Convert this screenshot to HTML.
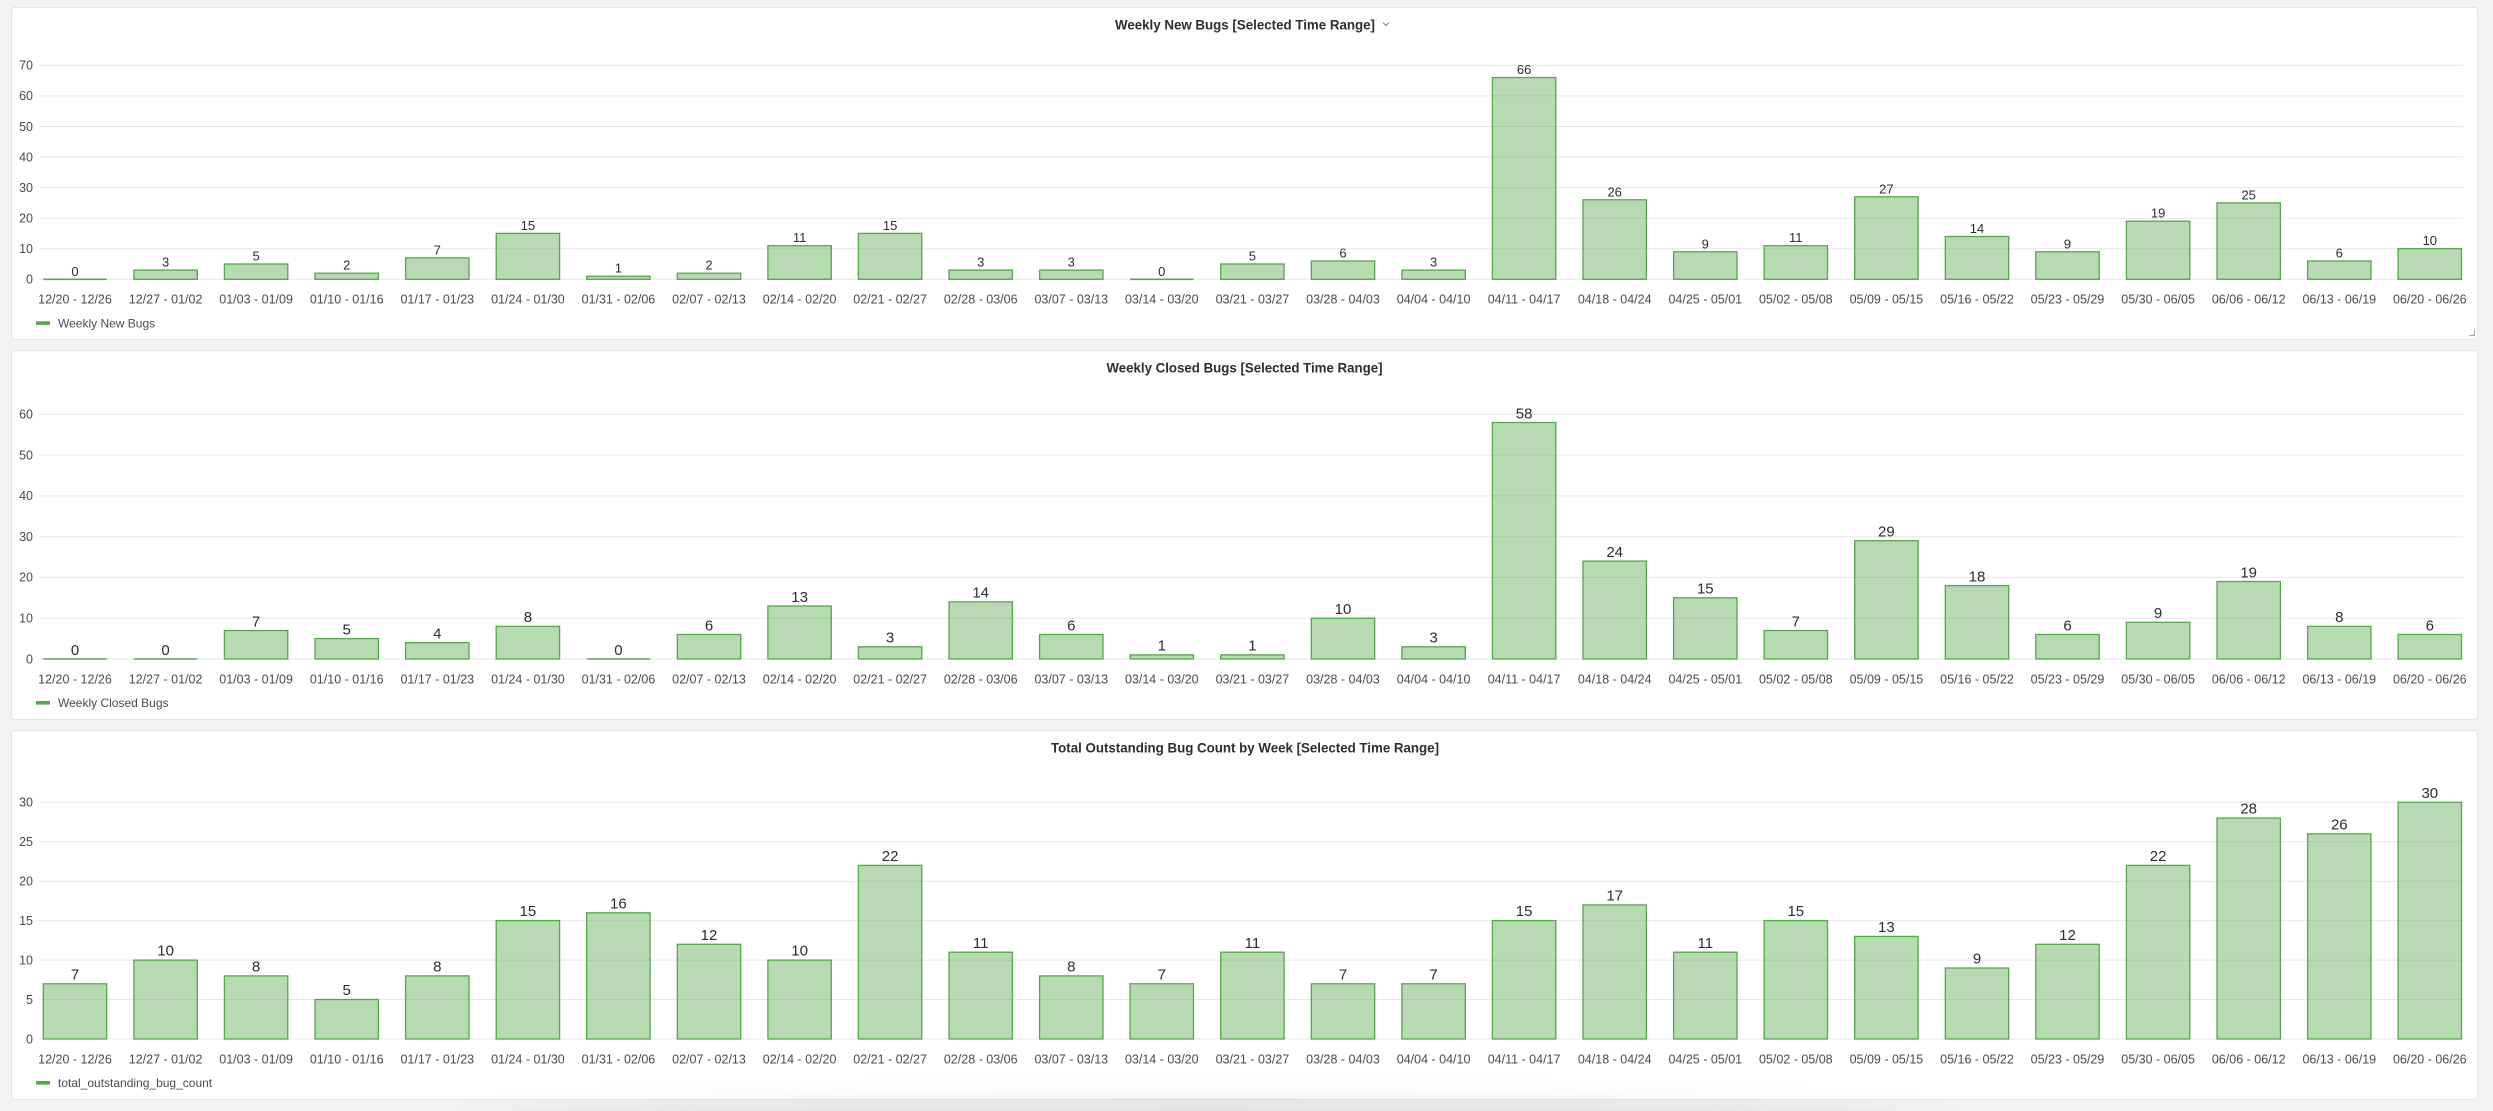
<!DOCTYPE html>
<html><head><meta charset="utf-8"><style>
html,body{margin:0;padding:0;background:#f2f3f3;}
svg{display:block;}
text{font-family:"Liberation Sans",Arial,sans-serif;}
.g{stroke:#e6e8e8;stroke-width:1;}
.b{fill:rgba(86,166,75,0.42);stroke:#56a64b;stroke-width:1.3;}
.z{stroke:#56a64b;stroke-width:1.6;}
.yl{font-size:12.5px;fill:#464c54;text-anchor:end;}
.xl{font-size:12.5px;fill:#464c54;text-anchor:middle;}
.v1{font-size:13px;fill:#2a2d31;text-anchor:middle;}
.v2{font-size:15px;fill:#2a2d31;text-anchor:middle;}
.tt{font-size:14px;font-weight:bold;fill:#2b2f33;text-anchor:middle;}
.lg{font-size:12px;fill:#464c54;}
.p{fill:#fff;stroke:#e1e4e4;stroke-width:1;}
</style></head><body>
<svg width="2493" height="1111" viewBox="0 0 2493 1111" xmlns="http://www.w3.org/2000/svg">
<defs><filter id="bl" x="-20%" y="-200%" width="140%" height="500%"><feGaussianBlur stdDeviation="14"/></filter></defs>
<rect x="0" y="0" width="2493" height="1111" fill="#f2f3f3"/>
<!-- panels -->
<rect class="p" x="11.5" y="7.5" width="2466" height="332" rx="3"/>
<rect class="p" x="11.5" y="350.5" width="2466" height="369" rx="3"/>
<rect class="p" x="11.5" y="730.5" width="2466" height="369" rx="3"/>

<!-- ============ CHART 1 ============ -->
<text class="tt" x="1245" y="29.5" textLength="260" lengthAdjust="spacingAndGlyphs">Weekly New Bugs [Selected Time Range]</text>
<polyline points="1383,22.5 1386,25.5 1389,22.5" fill="none" stroke="#7b8087" stroke-width="1"/>
<g>
<line class="g" x1="39" x2="2463" y1="279.3" y2="279.3"/>
<line class="g" x1="39" x2="2463" y1="248.7" y2="248.7"/>
<line class="g" x1="39" x2="2463" y1="218.2" y2="218.2"/>
<line class="g" x1="39" x2="2463" y1="187.6" y2="187.6"/>
<line class="g" x1="39" x2="2463" y1="157.0" y2="157.0"/>
<line class="g" x1="39" x2="2463" y1="126.5" y2="126.5"/>
<line class="g" x1="39" x2="2463" y1="95.9" y2="95.9"/>
<line class="g" x1="39" x2="2463" y1="65.3" y2="65.3"/>
</g>
<g>
<text class="yl" x="33" y="283.6">0</text>
<text class="yl" x="33" y="253.0">10</text>
<text class="yl" x="33" y="222.5">20</text>
<text class="yl" x="33" y="191.9">30</text>
<text class="yl" x="33" y="161.3">40</text>
<text class="yl" x="33" y="130.8">50</text>
<text class="yl" x="33" y="100.2">60</text>
<text class="yl" x="33" y="69.6">70</text>
</g>
<g>
<line class="z" x1="43.3" x2="106.7" y1="279.3" y2="279.3"/>
<rect class="b" x="133.9" y="270.1" width="63.4" height="9.2"/>
<rect class="b" x="224.4" y="264.0" width="63.4" height="15.3"/>
<rect class="b" x="315.0" y="273.2" width="63.4" height="6.1"/>
<rect class="b" x="405.6" y="257.9" width="63.4" height="21.4"/>
<rect class="b" x="496.2" y="233.4" width="63.4" height="45.9"/>
<rect class="b" x="586.7" y="276.2" width="63.4" height="3.1"/>
<rect class="b" x="677.3" y="273.2" width="63.4" height="6.1"/>
<rect class="b" x="767.9" y="245.7" width="63.4" height="33.6"/>
<rect class="b" x="858.4" y="233.4" width="63.4" height="45.9"/>
<rect class="b" x="949.0" y="270.1" width="63.4" height="9.2"/>
<rect class="b" x="1039.6" y="270.1" width="63.4" height="9.2"/>
<line class="z" x1="1130.1" x2="1193.5" y1="279.3" y2="279.3"/>
<rect class="b" x="1220.7" y="264.0" width="63.4" height="15.3"/>
<rect class="b" x="1311.3" y="261.0" width="63.4" height="18.3"/>
<rect class="b" x="1401.9" y="270.1" width="63.4" height="9.2"/>
<rect class="b" x="1492.4" y="77.5" width="63.4" height="201.8"/>
<rect class="b" x="1583.0" y="199.8" width="63.4" height="79.5"/>
<rect class="b" x="1673.6" y="251.8" width="63.4" height="27.5"/>
<rect class="b" x="1764.1" y="245.7" width="63.4" height="33.6"/>
<rect class="b" x="1854.7" y="196.8" width="63.4" height="82.5"/>
<rect class="b" x="1945.3" y="236.5" width="63.4" height="42.8"/>
<rect class="b" x="2035.8" y="251.8" width="63.4" height="27.5"/>
<rect class="b" x="2126.4" y="221.2" width="63.4" height="58.1"/>
<rect class="b" x="2217.0" y="202.9" width="63.4" height="76.4"/>
<rect class="b" x="2307.6" y="261.0" width="63.4" height="18.3"/>
<rect class="b" x="2398.1" y="248.7" width="63.4" height="30.6"/>
</g>
<g>
<text class="v1" x="75.0" y="275.8">0</text>
<text class="v1" x="165.6" y="266.6">3</text>
<text class="v1" x="256.1" y="260.5">5</text>
<text class="v1" x="346.7" y="269.7">2</text>
<text class="v1" x="437.3" y="254.4">7</text>
<text class="v1" x="527.9" y="229.9">15</text>
<text class="v1" x="618.4" y="272.7">1</text>
<text class="v1" x="709.0" y="269.7">2</text>
<text class="v1" x="799.6" y="242.2">11</text>
<text class="v1" x="890.1" y="229.9">15</text>
<text class="v1" x="980.7" y="266.6">3</text>
<text class="v1" x="1071.3" y="266.6">3</text>
<text class="v1" x="1161.8" y="275.8">0</text>
<text class="v1" x="1252.4" y="260.5">5</text>
<text class="v1" x="1343.0" y="257.5">6</text>
<text class="v1" x="1433.6" y="266.6">3</text>
<text class="v1" x="1524.1" y="74.0">66</text>
<text class="v1" x="1614.7" y="196.3">26</text>
<text class="v1" x="1705.3" y="248.3">9</text>
<text class="v1" x="1795.8" y="242.2">11</text>
<text class="v1" x="1886.4" y="193.3">27</text>
<text class="v1" x="1977.0" y="233.0">14</text>
<text class="v1" x="2067.5" y="248.3">9</text>
<text class="v1" x="2158.1" y="217.7">19</text>
<text class="v1" x="2248.7" y="199.4">25</text>
<text class="v1" x="2339.3" y="257.5">6</text>
<text class="v1" x="2429.8" y="245.2">10</text>
</g>
<g>
<text class="xl" x="75.0" y="303.5">12/20 - 12/26</text>
<text class="xl" x="165.6" y="303.5">12/27 - 01/02</text>
<text class="xl" x="256.1" y="303.5">01/03 - 01/09</text>
<text class="xl" x="346.7" y="303.5">01/10 - 01/16</text>
<text class="xl" x="437.3" y="303.5">01/17 - 01/23</text>
<text class="xl" x="527.9" y="303.5">01/24 - 01/30</text>
<text class="xl" x="618.4" y="303.5">01/31 - 02/06</text>
<text class="xl" x="709.0" y="303.5">02/07 - 02/13</text>
<text class="xl" x="799.6" y="303.5">02/14 - 02/20</text>
<text class="xl" x="890.1" y="303.5">02/21 - 02/27</text>
<text class="xl" x="980.7" y="303.5">02/28 - 03/06</text>
<text class="xl" x="1071.3" y="303.5">03/07 - 03/13</text>
<text class="xl" x="1161.8" y="303.5">03/14 - 03/20</text>
<text class="xl" x="1252.4" y="303.5">03/21 - 03/27</text>
<text class="xl" x="1343.0" y="303.5">03/28 - 04/03</text>
<text class="xl" x="1433.6" y="303.5">04/04 - 04/10</text>
<text class="xl" x="1524.1" y="303.5">04/11 - 04/17</text>
<text class="xl" x="1614.7" y="303.5">04/18 - 04/24</text>
<text class="xl" x="1705.3" y="303.5">04/25 - 05/01</text>
<text class="xl" x="1795.8" y="303.5">05/02 - 05/08</text>
<text class="xl" x="1886.4" y="303.5">05/09 - 05/15</text>
<text class="xl" x="1977.0" y="303.5">05/16 - 05/22</text>
<text class="xl" x="2067.5" y="303.5">05/23 - 05/29</text>
<text class="xl" x="2158.1" y="303.5">05/30 - 06/05</text>
<text class="xl" x="2248.7" y="303.5">06/06 - 06/12</text>
<text class="xl" x="2339.3" y="303.5">06/13 - 06/19</text>
<text class="xl" x="2429.8" y="303.5">06/20 - 06/26</text>
</g>
<rect x="36" y="321.3" width="14" height="3.6" fill="#56a64b"/>
<text class="lg" x="58" y="327.5">Weekly New Bugs</text>
<path d="M2474.5 330.5 V335.5 H2469.5" fill="none" stroke="#a0a4a8" stroke-width="1"/>

<!-- ============ CHART 2 ============ -->
<text class="tt" x="1244.5" y="372.3" textLength="276" lengthAdjust="spacingAndGlyphs">Weekly Closed Bugs [Selected Time Range]</text>
<g>
<line class="g" x1="39" x2="2463" y1="659.0" y2="659.0"/>
<line class="g" x1="39" x2="2463" y1="618.2" y2="618.2"/>
<line class="g" x1="39" x2="2463" y1="577.4" y2="577.4"/>
<line class="g" x1="39" x2="2463" y1="536.7" y2="536.7"/>
<line class="g" x1="39" x2="2463" y1="495.9" y2="495.9"/>
<line class="g" x1="39" x2="2463" y1="455.1" y2="455.1"/>
<line class="g" x1="39" x2="2463" y1="414.3" y2="414.3"/>
</g>
<g>
<text class="yl" x="33" y="663.3">0</text>
<text class="yl" x="33" y="622.5">10</text>
<text class="yl" x="33" y="581.7">20</text>
<text class="yl" x="33" y="541.0">30</text>
<text class="yl" x="33" y="500.2">40</text>
<text class="yl" x="33" y="459.4">50</text>
<text class="yl" x="33" y="418.6">60</text>
</g>
<g>
<line class="z" x1="43.3" x2="106.7" y1="659" y2="659"/>
<line class="z" x1="133.9" x2="197.3" y1="659" y2="659"/>
<rect class="b" x="224.4" y="630.5" width="63.4" height="28.5"/>
<rect class="b" x="315.0" y="638.6" width="63.4" height="20.4"/>
<rect class="b" x="405.6" y="642.7" width="63.4" height="16.3"/>
<rect class="b" x="496.2" y="626.4" width="63.4" height="32.6"/>
<line class="z" x1="586.7" x2="650.1" y1="659" y2="659"/>
<rect class="b" x="677.3" y="634.5" width="63.4" height="24.5"/>
<rect class="b" x="767.9" y="606.0" width="63.4" height="53.0"/>
<rect class="b" x="858.4" y="646.8" width="63.4" height="12.2"/>
<rect class="b" x="949.0" y="601.9" width="63.4" height="57.1"/>
<rect class="b" x="1039.6" y="634.5" width="63.4" height="24.5"/>
<rect class="b" x="1130.1" y="654.9" width="63.4" height="4.1"/>
<rect class="b" x="1220.7" y="654.9" width="63.4" height="4.1"/>
<rect class="b" x="1311.3" y="618.2" width="63.4" height="40.8"/>
<rect class="b" x="1401.9" y="646.8" width="63.4" height="12.2"/>
<rect class="b" x="1492.4" y="422.5" width="63.4" height="236.5"/>
<rect class="b" x="1583.0" y="561.1" width="63.4" height="97.9"/>
<rect class="b" x="1673.6" y="597.8" width="63.4" height="61.2"/>
<rect class="b" x="1764.1" y="630.5" width="63.4" height="28.5"/>
<rect class="b" x="1854.7" y="540.7" width="63.4" height="118.3"/>
<rect class="b" x="1945.3" y="585.6" width="63.4" height="73.4"/>
<rect class="b" x="2035.8" y="634.5" width="63.4" height="24.5"/>
<rect class="b" x="2126.4" y="622.3" width="63.4" height="36.7"/>
<rect class="b" x="2217.0" y="581.5" width="63.4" height="77.5"/>
<rect class="b" x="2307.6" y="626.4" width="63.4" height="32.6"/>
<rect class="b" x="2398.1" y="634.5" width="63.4" height="24.5"/>
</g>
<g>
<text class="v2" x="75.0" y="654.8">0</text>
<text class="v2" x="165.6" y="654.8">0</text>
<text class="v2" x="256.1" y="626.3">7</text>
<text class="v2" x="346.7" y="634.4">5</text>
<text class="v2" x="437.3" y="638.5">4</text>
<text class="v2" x="527.9" y="622.2">8</text>
<text class="v2" x="618.4" y="654.8">0</text>
<text class="v2" x="709.0" y="630.3">6</text>
<text class="v2" x="799.6" y="601.8">13</text>
<text class="v2" x="890.1" y="642.6">3</text>
<text class="v2" x="980.7" y="597.7">14</text>
<text class="v2" x="1071.3" y="630.3">6</text>
<text class="v2" x="1161.8" y="650.7">1</text>
<text class="v2" x="1252.4" y="650.7">1</text>
<text class="v2" x="1343.0" y="614.0">10</text>
<text class="v2" x="1433.6" y="642.6">3</text>
<text class="v2" x="1524.1" y="418.3">58</text>
<text class="v2" x="1614.7" y="556.9">24</text>
<text class="v2" x="1705.3" y="593.6">15</text>
<text class="v2" x="1795.8" y="626.3">7</text>
<text class="v2" x="1886.4" y="536.5">29</text>
<text class="v2" x="1977.0" y="581.4">18</text>
<text class="v2" x="2067.5" y="630.3">6</text>
<text class="v2" x="2158.1" y="618.1">9</text>
<text class="v2" x="2248.7" y="577.3">19</text>
<text class="v2" x="2339.3" y="622.2">8</text>
<text class="v2" x="2429.8" y="630.3">6</text>
</g>
<g>
<text class="xl" x="75.0" y="683.5">12/20 - 12/26</text>
<text class="xl" x="165.6" y="683.5">12/27 - 01/02</text>
<text class="xl" x="256.1" y="683.5">01/03 - 01/09</text>
<text class="xl" x="346.7" y="683.5">01/10 - 01/16</text>
<text class="xl" x="437.3" y="683.5">01/17 - 01/23</text>
<text class="xl" x="527.9" y="683.5">01/24 - 01/30</text>
<text class="xl" x="618.4" y="683.5">01/31 - 02/06</text>
<text class="xl" x="709.0" y="683.5">02/07 - 02/13</text>
<text class="xl" x="799.6" y="683.5">02/14 - 02/20</text>
<text class="xl" x="890.1" y="683.5">02/21 - 02/27</text>
<text class="xl" x="980.7" y="683.5">02/28 - 03/06</text>
<text class="xl" x="1071.3" y="683.5">03/07 - 03/13</text>
<text class="xl" x="1161.8" y="683.5">03/14 - 03/20</text>
<text class="xl" x="1252.4" y="683.5">03/21 - 03/27</text>
<text class="xl" x="1343.0" y="683.5">03/28 - 04/03</text>
<text class="xl" x="1433.6" y="683.5">04/04 - 04/10</text>
<text class="xl" x="1524.1" y="683.5">04/11 - 04/17</text>
<text class="xl" x="1614.7" y="683.5">04/18 - 04/24</text>
<text class="xl" x="1705.3" y="683.5">04/25 - 05/01</text>
<text class="xl" x="1795.8" y="683.5">05/02 - 05/08</text>
<text class="xl" x="1886.4" y="683.5">05/09 - 05/15</text>
<text class="xl" x="1977.0" y="683.5">05/16 - 05/22</text>
<text class="xl" x="2067.5" y="683.5">05/23 - 05/29</text>
<text class="xl" x="2158.1" y="683.5">05/30 - 06/05</text>
<text class="xl" x="2248.7" y="683.5">06/06 - 06/12</text>
<text class="xl" x="2339.3" y="683.5">06/13 - 06/19</text>
<text class="xl" x="2429.8" y="683.5">06/20 - 06/26</text>
</g>
<rect x="36" y="701" width="14" height="3.6" fill="#56a64b"/>
<text class="lg" x="58" y="707">Weekly Closed Bugs</text>

<!-- ============ CHART 3 ============ -->
<text class="tt" x="1245" y="752.3" textLength="388" lengthAdjust="spacingAndGlyphs">Total Outstanding Bug Count by Week [Selected Time Range]</text>
<g>
<line class="g" x1="39" x2="2463" y1="1039.0" y2="1039.0"/>
<line class="g" x1="39" x2="2463" y1="999.5" y2="999.5"/>
<line class="g" x1="39" x2="2463" y1="960.1" y2="960.1"/>
<line class="g" x1="39" x2="2463" y1="920.6" y2="920.6"/>
<line class="g" x1="39" x2="2463" y1="881.2" y2="881.2"/>
<line class="g" x1="39" x2="2463" y1="841.7" y2="841.7"/>
<line class="g" x1="39" x2="2463" y1="802.3" y2="802.3"/>
</g>
<g>
<text class="yl" x="33" y="1043.3">0</text>
<text class="yl" x="33" y="1003.8">5</text>
<text class="yl" x="33" y="964.4">10</text>
<text class="yl" x="33" y="924.9">15</text>
<text class="yl" x="33" y="885.5">20</text>
<text class="yl" x="33" y="846.0">25</text>
<text class="yl" x="33" y="806.6">30</text>
</g>
<g>
<rect class="b" x="43.3" y="983.8" width="63.4" height="55.2"/>
<rect class="b" x="133.9" y="960.1" width="63.4" height="78.9"/>
<rect class="b" x="224.4" y="975.9" width="63.4" height="63.1"/>
<rect class="b" x="315.0" y="999.5" width="63.4" height="39.5"/>
<rect class="b" x="405.6" y="975.9" width="63.4" height="63.1"/>
<rect class="b" x="496.2" y="920.6" width="63.4" height="118.4"/>
<rect class="b" x="586.7" y="912.8" width="63.4" height="126.2"/>
<rect class="b" x="677.3" y="944.3" width="63.4" height="94.7"/>
<rect class="b" x="767.9" y="960.1" width="63.4" height="78.9"/>
<rect class="b" x="858.4" y="865.4" width="63.4" height="173.6"/>
<rect class="b" x="949.0" y="952.2" width="63.4" height="86.8"/>
<rect class="b" x="1039.6" y="975.9" width="63.4" height="63.1"/>
<rect class="b" x="1130.1" y="983.8" width="63.4" height="55.2"/>
<rect class="b" x="1220.7" y="952.2" width="63.4" height="86.8"/>
<rect class="b" x="1311.3" y="983.8" width="63.4" height="55.2"/>
<rect class="b" x="1401.9" y="983.8" width="63.4" height="55.2"/>
<rect class="b" x="1492.4" y="920.6" width="63.4" height="118.4"/>
<rect class="b" x="1583.0" y="904.9" width="63.4" height="134.1"/>
<rect class="b" x="1673.6" y="952.2" width="63.4" height="86.8"/>
<rect class="b" x="1764.1" y="920.6" width="63.4" height="118.4"/>
<rect class="b" x="1854.7" y="936.4" width="63.4" height="102.6"/>
<rect class="b" x="1945.3" y="968.0" width="63.4" height="71.0"/>
<rect class="b" x="2035.8" y="944.3" width="63.4" height="94.7"/>
<rect class="b" x="2126.4" y="865.4" width="63.4" height="173.6"/>
<rect class="b" x="2217.0" y="818.1" width="63.4" height="220.9"/>
<rect class="b" x="2307.6" y="833.9" width="63.4" height="205.1"/>
<rect class="b" x="2398.1" y="802.3" width="63.4" height="236.7"/>
</g>
<g>
<text class="v2" x="75.0" y="979.4">7</text>
<text class="v2" x="165.6" y="955.7">10</text>
<text class="v2" x="256.1" y="971.5">8</text>
<text class="v2" x="346.7" y="995.1">5</text>
<text class="v2" x="437.3" y="971.5">8</text>
<text class="v2" x="527.9" y="916.2">15</text>
<text class="v2" x="618.4" y="908.4">16</text>
<text class="v2" x="709.0" y="939.9">12</text>
<text class="v2" x="799.6" y="955.7">10</text>
<text class="v2" x="890.1" y="861.0">22</text>
<text class="v2" x="980.7" y="947.8">11</text>
<text class="v2" x="1071.3" y="971.5">8</text>
<text class="v2" x="1161.8" y="979.4">7</text>
<text class="v2" x="1252.4" y="947.8">11</text>
<text class="v2" x="1343.0" y="979.4">7</text>
<text class="v2" x="1433.6" y="979.4">7</text>
<text class="v2" x="1524.1" y="916.2">15</text>
<text class="v2" x="1614.7" y="900.5">17</text>
<text class="v2" x="1705.3" y="947.8">11</text>
<text class="v2" x="1795.8" y="916.2">15</text>
<text class="v2" x="1886.4" y="932.0">13</text>
<text class="v2" x="1977.0" y="963.6">9</text>
<text class="v2" x="2067.5" y="939.9">12</text>
<text class="v2" x="2158.1" y="861.0">22</text>
<text class="v2" x="2248.7" y="813.7">28</text>
<text class="v2" x="2339.3" y="829.5">26</text>
<text class="v2" x="2429.8" y="797.9">30</text>
</g>
<g>
<text class="xl" x="75.0" y="1063.5">12/20 - 12/26</text>
<text class="xl" x="165.6" y="1063.5">12/27 - 01/02</text>
<text class="xl" x="256.1" y="1063.5">01/03 - 01/09</text>
<text class="xl" x="346.7" y="1063.5">01/10 - 01/16</text>
<text class="xl" x="437.3" y="1063.5">01/17 - 01/23</text>
<text class="xl" x="527.9" y="1063.5">01/24 - 01/30</text>
<text class="xl" x="618.4" y="1063.5">01/31 - 02/06</text>
<text class="xl" x="709.0" y="1063.5">02/07 - 02/13</text>
<text class="xl" x="799.6" y="1063.5">02/14 - 02/20</text>
<text class="xl" x="890.1" y="1063.5">02/21 - 02/27</text>
<text class="xl" x="980.7" y="1063.5">02/28 - 03/06</text>
<text class="xl" x="1071.3" y="1063.5">03/07 - 03/13</text>
<text class="xl" x="1161.8" y="1063.5">03/14 - 03/20</text>
<text class="xl" x="1252.4" y="1063.5">03/21 - 03/27</text>
<text class="xl" x="1343.0" y="1063.5">03/28 - 04/03</text>
<text class="xl" x="1433.6" y="1063.5">04/04 - 04/10</text>
<text class="xl" x="1524.1" y="1063.5">04/11 - 04/17</text>
<text class="xl" x="1614.7" y="1063.5">04/18 - 04/24</text>
<text class="xl" x="1705.3" y="1063.5">04/25 - 05/01</text>
<text class="xl" x="1795.8" y="1063.5">05/02 - 05/08</text>
<text class="xl" x="1886.4" y="1063.5">05/09 - 05/15</text>
<text class="xl" x="1977.0" y="1063.5">05/16 - 05/22</text>
<text class="xl" x="2067.5" y="1063.5">05/23 - 05/29</text>
<text class="xl" x="2158.1" y="1063.5">05/30 - 06/05</text>
<text class="xl" x="2248.7" y="1063.5">06/06 - 06/12</text>
<text class="xl" x="2339.3" y="1063.5">06/13 - 06/19</text>
<text class="xl" x="2429.8" y="1063.5">06/20 - 06/26</text>
</g>
<rect x="36" y="1081" width="14" height="3.6" fill="#56a64b"/>
<text class="lg" x="58" y="1087">total_outstanding_bug_count</text>

<!-- bottom scroll shadow -->
<ellipse cx="1205" cy="1128" rx="740" ry="26" fill="rgba(0,0,0,0.09)" filter="url(#bl)"/>
</svg>
</body></html>
